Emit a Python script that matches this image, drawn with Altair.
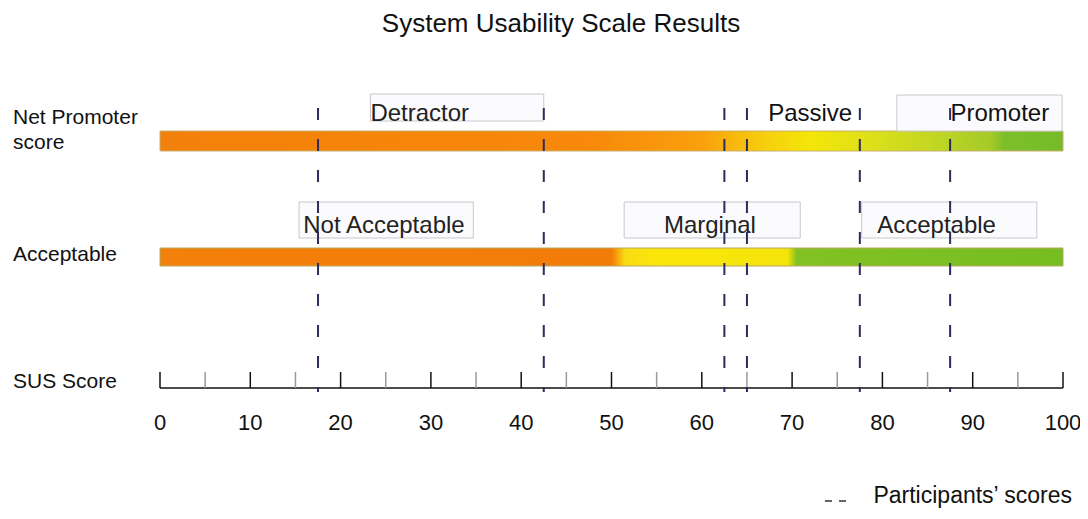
import altair as alt
import pandas as pd

FONT = "Liberation Sans"

# ---- data ----
title_text = ["System Usability Scale Results"]
participant_scores = [17.5, 42.5, 62.5, 65.0, 77.5, 87.5]
major_ticks = [0, 10, 20, 30, 40, 50, 60, 70, 80, 90, 100]
minor_ticks = [5, 15, 25, 35, 45, 55, 65, 75, 85, 95]

nps_labels = ["Detractor", "Passive", "Promoter"]
nps_label_x = [23.3, 72.0, 93.0]
nps_box_start = [23.3, 81.6]
nps_box_end = [42.5, 99.9]

acc_labels = ["Not Acceptable", "Marginal", "Acceptable"]
acc_label_x = [24.8, 60.9, 86.0]
acc_box_start = [15.4, 51.4, 77.7]
acc_box_end = [34.7, 70.9, 97.1]

row_labels = ["Net Promoter score", "Acceptable", "SUS Score"]
legend_label = ["Participants\u2019 scores"]

scale_min = [0]
scale_max = [100]

x_scale = alt.Scale(domain=[0, 100], nice=False, zero=False)
X = lambda f: alt.X(f, type="quantitative", scale=x_scale, axis=None)

bar_df = pd.DataFrame({"start": scale_min, "end": scale_max})

nps_grad = alt.Gradient(
    gradient="linear", x1=0, x2=1, y1=0, y2=0,
    stops=[
        alt.GradientStop(color="#f3800a", offset=0.0),
        alt.GradientStop(color="#f8890a", offset=0.48),
        alt.GradientStop(color="#f9a00c", offset=0.60),
        alt.GradientStop(color="#f6cf0e", offset=0.67),
        alt.GradientStop(color="#f4e608", offset=0.72),
        alt.GradientStop(color="#dce01a", offset=0.79),
        alt.GradientStop(color="#bcd425", offset=0.87),
        alt.GradientStop(color="#a4ca28", offset=0.92),
        alt.GradientStop(color="#7cbf2a", offset=0.935),
        alt.GradientStop(color="#76bc28", offset=1.0),
    ],
)
acc_grad = alt.Gradient(
    gradient="linear", x1=0, x2=1, y1=0, y2=0,
    stops=[
        alt.GradientStop(color="#f3800a", offset=0.0),
        alt.GradientStop(color="#f37c08", offset=0.50),
        alt.GradientStop(color="#f8dc12", offset=0.515),
        alt.GradientStop(color="#fbe60a", offset=0.55),
        alt.GradientStop(color="#f5e40a", offset=0.695),
        alt.GradientStop(color="#82c222", offset=0.705),
        alt.GradientStop(color="#76bd22", offset=1.0),
    ],
)

nps_bar = alt.Chart(bar_df).mark_rect(color=nps_grad, stroke="#c8b070", strokeWidth=1).encode(
    x=X("start"), x2="end", y=alt.value(123), y2=alt.value(143)
)
acc_bar = alt.Chart(bar_df).mark_rect(color=acc_grad, stroke="#b8a860", strokeWidth=1).encode(
    x=X("start"), x2="end", y=alt.value(240), y2=alt.value(258)
)

# label boxes
nps_box_df = pd.DataFrame({"start": nps_box_start, "end": nps_box_end, "top": [86, 87], "bot": [113, 123]})
nps_boxes = alt.Chart(nps_box_df).mark_rect(fill="#fbfbfd", stroke="#c8c8cc", strokeWidth=1).encode(
    x=X("start"), x2="end", y=alt.Y("top:Q", scale=None), y2="bot:Q"
)
acc_box_df = pd.DataFrame({"start": acc_box_start, "end": acc_box_end})
acc_boxes = alt.Chart(acc_box_df).mark_rect(fill="#fbfbfd", stroke="#c8c8cc", strokeWidth=1).encode(
    x=X("start"), x2="end", y=alt.value(194), y2=alt.value(230)
)

nps_text_df = pd.DataFrame({"label": nps_labels, "x": nps_label_x})
nps_text_left = alt.Chart(nps_text_df.iloc[[0]]).mark_text(
    font=FONT, fontSize=24, align="left", baseline="middle", color="#222"
).encode(x=X("x"), y=alt.value(106), text="label:N")
nps_text_c = alt.Chart(nps_text_df.iloc[1:]).mark_text(
    font=FONT, fontSize=24, align="center", baseline="middle", color="#111"
).encode(x=X("x"), y=alt.value(106), text="label:N")

acc_text_df = pd.DataFrame({"label": acc_labels, "x": acc_label_x})
acc_text = alt.Chart(acc_text_df).mark_text(
    font=FONT, fontSize=24, align="center", baseline="middle", color="#222"
).encode(x=X("x"), y=alt.value(218), text="label:N")

# participant dashed lines
part_df = pd.DataFrame({"score": participant_scores})
part_lines = alt.Chart(part_df).mark_rule(color="#2b2d5e", strokeWidth=2, strokeDash=[12, 19]).encode(
    x=X("score"), y=alt.value(100), y2=alt.value(384)
)

# custom axis
axis_line = alt.Chart(bar_df).mark_rule(color="#111", strokeWidth=1.5).encode(
    x=X("start"), x2="end", y=alt.value(380)
)
major_df = pd.DataFrame({"v": major_ticks})
minor_df = pd.DataFrame({"v": minor_ticks})
major_rules = alt.Chart(major_df).mark_rule(color="#111", strokeWidth=1.5).encode(
    x=X("v"), y=alt.value(364), y2=alt.value(380)
)
minor_rules = alt.Chart(minor_df).mark_rule(color="#9a9a9a", strokeWidth=1.5).encode(
    x=X("v"), y=alt.value(364), y2=alt.value(380)
)
tick_labels = alt.Chart(major_df).mark_text(
    font=FONT, fontSize=22, align="center", baseline="middle", color="#111"
).encode(x=X("v"), y=alt.value(415), text="v:Q")

# row labels
one = pd.DataFrame({"k": [0]})
row_text = alt.Chart(one).mark_text(
    font=FONT, fontSize=21, align="left", baseline="middle", color="#111", lineHeight=25
).encode(x=alt.value(-147), y=alt.value(110), text=alt.value(["Net Promoter", "score"]))
row_text2 = alt.Chart(pd.DataFrame({"label": [row_labels[1]]})).mark_text(
    font=FONT, fontSize=21, align="left", baseline="middle", color="#111"
).encode(x=alt.value(-147), y=alt.value(247), text="label:N")
row_text3 = alt.Chart(pd.DataFrame({"label": [row_labels[2]]})).mark_text(
    font=FONT, fontSize=21, align="left", baseline="middle", color="#111"
).encode(x=alt.value(-147), y=alt.value(374), text="label:N")

title = alt.Chart(pd.DataFrame({"t": title_text})).mark_text(
    font=FONT, fontSize=26, align="center", baseline="middle", color="#111"
).encode(x=alt.value(401), y=alt.value(16), text="t:N")

legend = alt.Chart(pd.DataFrame({"t": legend_label})).mark_text(
    font=FONT, fontSize=23, align="right", baseline="middle", color="#111"
).encode(x=alt.value(912), y=alt.value(488), text="t:N")
legend_dash = alt.Chart(one).mark_rule(color="#333", strokeWidth=1.5, strokeDash=[7, 7]).encode(
    x=alt.value(665), x2=alt.value(686), y=alt.value(493)
)

chart = alt.layer(
    nps_bar, acc_bar, nps_boxes, acc_boxes, nps_text_left, nps_text_c, acc_text,
    axis_line, major_rules, minor_rules, part_lines, tick_labels,
    row_text, row_text2, row_text3, title, legend, legend_dash,
).properties(
    width=903, height=380,
    padding={"left": 152, "top": 0, "right": 17, "bottom": 123},
    autosize=alt.AutoSizeParams(type="none"),
).configure_view(stroke=None)

chart.save("out.html", embed_options={"renderer": "svg", "actions": False})
